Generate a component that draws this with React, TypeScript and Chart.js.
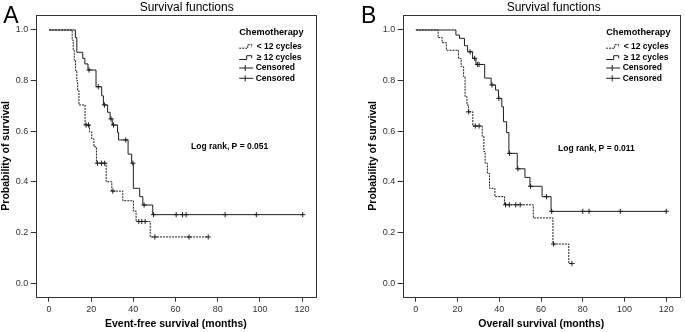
import React, { useEffect, useRef } from 'react';
import { Chart, registerables } from 'chart.js';

Chart.register(...registerables);

// ---------- texts ----------
const chartTitle = 'Survival functions';
const legendTitle = 'Chemotherapy';
const groupLabels = ['< 12 cycles', '≥ 12 cycles'];
const censorLabel = 'Censored';
const yAxisTitle = 'Probability of survival';
const panelLetters = ['A', 'B'];
const xAxisTitles = ['Event-free survival (months)', 'Overall survival (months)'];
const logRankTexts = ['Log rank, P = 0.051', 'Log rank, P = 0.011'];

// ---------- ticks ----------
const xTickValues = [0, 20, 40, 60, 80, 100, 120];
const yTickValues = [0, 0.2, 0.4, 0.6, 0.8, 1.0];

// ---------- Panel A: event-free survival ----------
const efsShortTimes = [0, 11, 11.5, 12, 12.6, 13.2, 13.6, 14.2, 17.1, 19.2, 20.3, 21.3, 22.5, 27.1, 29.8, 35, 40, 41.3, 48];
const efsShortSurv = [1, 0.96, 0.92, 0.88, 0.84, 0.8, 0.76, 0.704, 0.625, 0.598, 0.57, 0.539, 0.474, 0.401, 0.364, 0.326, 0.285, 0.244, 0.183];
const efsShortCensored = [17.6, 18.7, 23, 24.9, 26.4, 30.3, 42.6, 44, 45.6, 50.2, 66.4, 75.5];

const efsLongTimes = [0, 12.5, 13.2, 16, 17, 18.5, 22.3, 25, 25.8, 27.8, 29, 30, 32.5, 33, 37.5, 39.2, 40, 43, 44.5, 49.2];
const efsLongSurv = [1, 0.97, 0.912, 0.888, 0.866, 0.842, 0.776, 0.74, 0.704, 0.675, 0.649, 0.625, 0.595, 0.566, 0.51, 0.474, 0.375, 0.342, 0.309, 0.271];
const efsLongCensored = [19, 23.4, 26.3, 29.4, 30.6, 36.4, 39.8, 45.1, 49.6, 60.3, 63.3, 65, 83.5, 98.3, 120.3];

// ---------- Panel B: overall survival ----------
const osShortTimes = [0, 10.7, 12.6, 14.6, 20.4, 21.7, 22.9, 23.6, 24.5, 25.2, 27.3, 31.8, 32.6, 33.2, 34.3, 35.3, 37.9, 42.5, 56.3, 65.7, 73.3];
const osShortSurv = [1, 0.97, 0.95, 0.92, 0.888, 0.855, 0.816, 0.737, 0.704, 0.677, 0.621, 0.58, 0.52, 0.474, 0.434, 0.375, 0.342, 0.31, 0.258, 0.155, 0.078];
const osShortCensored = [25.3, 28.5, 30.3, 43, 44.8, 47.9, 50, 66, 74.8];

const osLongTimes = [0, 19.2, 20.9, 23.3, 24.8, 27.2, 28.8, 33, 36.1, 38.2, 39.6, 41.2, 42, 43.5, 44.6, 48.6, 52.3, 54.7, 60.5, 64.8];
const osLongSurv = [1, 0.98, 0.967, 0.938, 0.914, 0.888, 0.864, 0.81, 0.783, 0.763, 0.73, 0.697, 0.638, 0.595, 0.513, 0.452, 0.418, 0.383, 0.342, 0.284];
const osLongCensored = [26, 28.2, 29.5, 30.3, 36.5, 39.8, 44.9, 48.9, 55, 62.6, 65.1, 80, 83, 98, 120];

const FONT = '"Liberation Sans", Arial, Helvetica, sans-serif';
const INK = '#1e1e1e';

function survivalAt(times: number[], surv: number[], t: number) {
  let s = surv[0];
  for (let i = 0; i < times.length; i++) if (times[i] <= t) s = surv[i];
  return s;
}

function linePoints(times: number[], surv: number[], censored: number[]) {
  const pts = times.map((t, i) => ({ x: t, y: surv[i] }));
  const lastC = censored.length ? censored[censored.length - 1] : times[times.length - 1];
  if (lastC > times[times.length - 1]) pts.push({ x: lastC, y: surv[surv.length - 1] });
  return pts;
}

function censorPoints(times: number[], surv: number[], censored: number[]) {
  return censored.map((t) => ({ x: t, y: survivalAt(times, surv, t) }));
}

const kmPlugin = {
  id: 'kmText',
  afterDraw(chart: any, _args: any, opts: any) {
    const { ctx, chartArea: ca } = chart;
    const p = opts.panel;
    ctx.save();
    ctx.setLineDash([]);
    // frame
    ctx.strokeStyle = '#333';
    ctx.lineWidth = 1;
    const l = Math.round(ca.left), t = Math.round(ca.top), r = Math.round(ca.right), b = Math.round(ca.bottom);
    ctx.strokeRect(l + 0.5, t + 0.5, r - l, b - t);

    ctx.fillStyle = '#000';
    // title
    ctx.font = `12px ${FONT}`;
    ctx.textAlign = 'center';
    ctx.textBaseline = 'middle';
    ctx.fillText(chartTitle, ca.left + 151, 7.5);

    // panel letter
    ctx.font = `23px ${FONT}`;
    ctx.textAlign = 'left';
    ctx.textBaseline = 'alphabetic';
    ctx.fillText(p.letter, p.letterX, 23.3);

    // axis titles
    ctx.font = `bold 10.5px ${FONT}`;
    ctx.textAlign = 'center';
    ctx.textBaseline = 'middle';
    ctx.fillText(p.xTitle, (ca.left + ca.right) / 2, 324);
    ctx.save();
    ctx.translate(ca.left - 30, (ca.top + ca.bottom) / 2);
    ctx.rotate(-Math.PI / 2);
    ctx.fillText(yAxisTitle, 0, 0);
    ctx.restore();

    // log rank
    ctx.font = `bold 8.5px ${FONT}`;
    ctx.textAlign = 'left';
    ctx.fillText(p.logRank, ca.left + 155.3, p.logRankY);

    // legend
    const lx = ca.left + 203.5;
    ctx.font = `bold 9.2px ${FONT}`;
    ctx.fillText(legendTitle, lx, 32.7);
    const rows = [46.7, 57.7, 68, 78.3];
    ctx.strokeStyle = INK;
    ctx.lineWidth = 1;
    // dashed group icon
    let y = rows[0];
    ctx.setLineDash([2, 1]);
    ctx.beginPath();
    ctx.moveTo(lx, y + 1.5); ctx.lineTo(lx + 8.5, y + 1.5); ctx.lineTo(lx + 8.5, y - 2); ctx.lineTo(lx + 12.5, y - 2); ctx.lineTo(lx + 12.5, y + 0.5);
    ctx.stroke();
    ctx.setLineDash([]);
    // solid group icon
    y = rows[1];
    ctx.beginPath();
    ctx.moveTo(lx, y + 1.8); ctx.lineTo(lx + 7.5, y + 1.8); ctx.lineTo(lx + 7.5, y - 2); ctx.lineTo(lx + 12.5, y - 2); ctx.lineTo(lx + 12.5, y + 0.5);
    ctx.stroke();
    // censored icons
    for (const ry of [rows[2], rows[3]]) {
      ctx.beginPath();
      ctx.moveTo(lx, ry); ctx.lineTo(lx + 14, ry);
      ctx.moveTo(lx + 6, ry - 3); ctx.lineTo(lx + 6, ry + 3);
      ctx.stroke();
    }
    ctx.font = `bold 8.5px ${FONT}`;
    ctx.fillText(groupLabels[0], lx + 17.5, rows[0]);
    ctx.fillText(groupLabels[1], lx + 17.5, rows[1]);
    ctx.fillText(censorLabel, lx + 16.5, rows[2]);
    ctx.fillText(censorLabel, lx + 16.5, rows[3]);
    ctx.restore();
  },
};

type PanelCfg = {
  left: number;
  padLeft: number;
  padRight: number;
  letter: string;
  letterX: number;
  xTitle: string;
  logRank: string;
  logRankY: number;
  short: { times: number[]; surv: number[]; cens: number[] };
  long: { times: number[]; surv: number[]; cens: number[] };
};

const panels: PanelCfg[] = [
  {
    left: 0, padLeft: 0, padRight: 26, letter: panelLetters[0], letterX: 3.3,
    xTitle: xAxisTitles[0], logRank: logRankTexts[0], logRankY: 146.7,
    short: { times: efsShortTimes, surv: efsShortSurv, cens: efsShortCensored },
    long: { times: efsLongTimes, surv: efsLongSurv, cens: efsLongCensored },
  },
  {
    left: 343, padLeft: 24, padRight: 2, letter: panelLetters[1], letterX: 18,
    xTitle: xAxisTitles[1], logRank: logRankTexts[1], logRankY: 148.7,
    short: { times: osShortTimes, surv: osShortSurv, cens: osShortCensored },
    long: { times: osLongTimes, surv: osLongSurv, cens: osLongCensored },
  },
];

function Panel({ cfg }: { cfg: PanelCfg }) {
  const ref = useRef<HTMLCanvasElement>(null);
  useEffect(() => {
    const tickFont = { family: FONT, size: 9 };
    const chart = new Chart(ref.current as HTMLCanvasElement, {
      type: 'scatter',
      data: {
        datasets: [
          {
            label: groupLabels[0],
            data: linePoints(cfg.short.times, cfg.short.surv, cfg.short.cens),
            showLine: true, stepped: 'before', borderColor: INK, borderWidth: 1,
            borderDash: [2, 1], pointRadius: 0, fill: false,
          } as any,
          {
            label: groupLabels[1],
            data: linePoints(cfg.long.times, cfg.long.surv, cfg.long.cens),
            showLine: true, stepped: 'before', borderColor: INK, borderWidth: 1,
            pointRadius: 0, fill: false,
          } as any,
          {
            label: censorLabel,
            data: censorPoints(cfg.short.times, cfg.short.surv, cfg.short.cens),
            showLine: false, pointStyle: 'cross', pointRadius: 2.6, borderColor: INK, borderWidth: 1,
          } as any,
          {
            label: censorLabel,
            data: censorPoints(cfg.long.times, cfg.long.surv, cfg.long.cens),
            showLine: false, pointStyle: 'cross', pointRadius: 2.6, borderColor: INK, borderWidth: 1,
          } as any,
        ],
      },
      options: {
        animation: false,
        responsive: false,
        devicePixelRatio: 1,
        layout: { padding: { left: cfg.padLeft, right: cfg.padRight, top: 15, bottom: 0 } },
        plugins: {
          legend: { display: false },
          tooltip: { enabled: false },
          title: { display: false },
          kmText: { panel: cfg },
        } as any,
        scales: {
          x: {
            type: 'linear',
            min: -6.3,
            max: 126.6,
            afterBuildTicks: (s: any) => { s.ticks = xTickValues.map((v) => ({ value: v })); },
            afterFit: (s: any) => { s.height = 35.3; },
            ticks: { font: tickFont, color: '#333', padding: 2, callback: (v: any) => String(v) },
            grid: { display: true, drawOnChartArea: false, drawTicks: true, tickLength: 5, color: '#333' },
            border: { display: false },
          },
          y: {
            type: 'linear',
            min: -0.0529,
            max: 1.0592,
            afterBuildTicks: (s: any) => { s.ticks = yTickValues.map((v) => ({ value: v })); },
            afterFit: (s: any) => { s.width = 35.7; },
            ticks: { font: tickFont, color: '#333', padding: 2.5, callback: (v: any) => Number(v).toFixed(1) },
            grid: { display: true, drawOnChartArea: false, drawTicks: true, tickLength: 5, color: '#333' },
            border: { display: false },
          },
        },
      } as any,
      plugins: [kmPlugin],
    });
    return () => chart.destroy();
  }, [cfg]);
  return (
    <canvas
      ref={ref}
      width={342}
      height={332}
      style={{ position: 'absolute', left: cfg.left, top: 0, width: 342, height: 332 }}
    />
  );
}

export default function App() {
  return (
    <div style={{ position: 'absolute', left: 0, top: 0, width: 685, height: 332, background: '#fff' }}>
      {panels.map((p) => (
        <Panel key={p.letter} cfg={p} />
      ))}
    </div>
  );
}
